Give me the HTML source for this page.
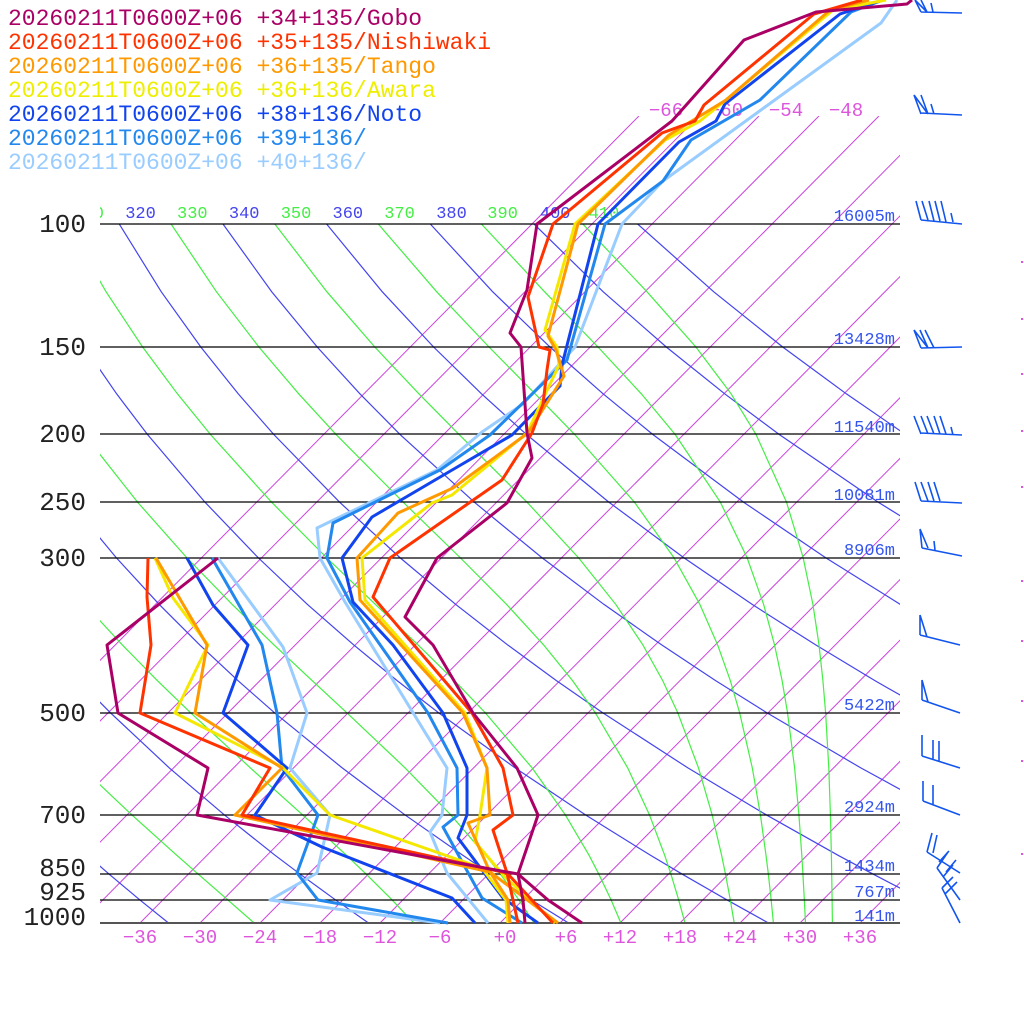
<!DOCTYPE html>
<html><head><meta charset="utf-8">
<style>
html,body{margin:0;padding:0;background:#fff;}
svg{display:block;font-family:"Liberation Mono","DejaVu Sans Mono",monospace;}
</style></head>
<body>
<svg id="s" width="1024" height="1024" viewBox="0 0 1024 1024" xmlns="http://www.w3.org/2000/svg">
<defs><clipPath id="pc"><rect x="100" y="224" width="800" height="699"/></clipPath>
<clipPath id="ic"><rect x="100" y="116" width="800" height="807"/></clipPath>
<clipPath id="lc"><rect x="100" y="190" width="800" height="40"/></clipPath></defs>
<g id="bg"></g>
<g id="iso" stroke="#000" stroke-width="1.3">
<line x1="100" y1="224" x2="900" y2="224"/><line x1="100" y1="347" x2="900" y2="347"/>
<line x1="100" y1="434" x2="900" y2="434"/><line x1="100" y1="502" x2="900" y2="502"/>
<line x1="100" y1="558" x2="900" y2="558"/><line x1="100" y1="713" x2="900" y2="713"/>
<line x1="100" y1="815" x2="900" y2="815"/><line x1="100" y1="874" x2="900" y2="874"/>
<line x1="100" y1="900" x2="900" y2="900"/><line x1="100" y1="923" x2="900" y2="923" stroke="#555" stroke-width="2"/>
</g>
<g font-size="26" fill="#222" text-anchor="end">
<text x="86" y="232">100</text><text x="86" y="355">150</text><text x="86" y="442">200</text>
<text x="86" y="510">250</text><text x="86" y="566">300</text><text x="86" y="721">500</text>
<text x="86" y="823">700</text><text x="86" y="876">850</text><text x="86" y="900">925</text><text x="86" y="925">1000</text>
</g>
<g font-size="17" fill="#3355ee" text-anchor="end">
<text x="895" y="221">16005m</text><text x="895" y="344">13428m</text><text x="895" y="432">11540m</text>
<text x="895" y="500">10081m</text><text x="895" y="555">8906m</text><text x="895" y="710">5422m</text>
<text x="895" y="812">2924m</text><text x="895" y="871">1434m</text><text x="895" y="897">767m</text><text x="895" y="921">141m</text>
</g>
<g font-size="19" fill="#dd55dd" text-anchor="middle">
<text x="140" y="943">−36</text><text x="200" y="943">−30</text><text x="260" y="943">−24</text><text x="320" y="943">−18</text>
<text x="380" y="943">−12</text><text x="440" y="943">−6</text><text x="505" y="943">+0</text><text x="566" y="943">+6</text>
<text x="620" y="943">+12</text><text x="680" y="943">+18</text><text x="740" y="943">+24</text><text x="800" y="943">+30</text><text x="860" y="943">+36</text>
<text x="666" y="116">−66</text><text x="726" y="116">−60</text><text x="786" y="116">−54</text><text x="846" y="116">−48</text>
</g>
<g id="prof" fill="none" stroke-width="3" stroke-linejoin="round"></g>
<g font-size="23">
<text x="8" y="25" fill="#aa0066">20260211T0600Z+06 +34+135/Gobo</text>
<text x="8" y="49" fill="#ff3300">20260211T0600Z+06 +35+135/Nishiwaki</text>
<text x="8" y="73" fill="#ff9900">20260211T0600Z+06 +36+135/Tango</text>
<text x="8" y="97" fill="#eeee00">20260211T0600Z+06 +36+136/Awara</text>
<text x="8" y="121" fill="#1144ee">20260211T0600Z+06 +38+136/Noto</text>
<text x="8" y="145" fill="#2288ee">20260211T0600Z+06 +39+136/</text>
<text x="8" y="169" fill="#99ccff">20260211T0600Z+06 +40+136/</text>
</g>
<g stroke="#1155ee" stroke-width="1.6" fill="none">
<path d="M921 12L962 13M915 0L921 12M921 0L927 12M915 0L927 12M931 3L933 12"/>
<path d="M921 113L962 115M914 95L921 114M921 95L928 114M914 95L928 114M931 104L934 114"/>
<path d="M921 220L962 224M916 201L921 220M922 201L928 220M929 201L934 221M935 201L940 221M941 201L946 222M951 213L953 222"/>
<path d="M921 348L962 347M914 330L921 348M920 330L928 348M925 330L934 348M914 330L928 348"/>
<path d="M921 433L962 435M914 416L921 434M921 416L928 434M927 416L934 434M934 416L940 434M940 416L946 434M951 427L953 435"/>
<path d="M921 501L962 503M915 482L921 501M921 482L928 501M928 482L934 501M934 482L940 501"/>
<path d="M922 548L962 556M920 529L922 548M920 529L928 548M934 541L935 550"/>
<path d="M920 635L960 645M920 615L920 635M920 615L927 637"/>
<path d="M922 700L960 713M922 680L922 700M922 680L928 702"/>
<path d="M922 756L960 768M922 735L922 756M933 740L933 760M939 741L939 761"/>
<path d="M923 801L960 815M923 781L923 801M933 785L933 805"/>
<path d="M927 852L960 873M927 852L932 833M933 853L937 835M939 862L949 851M946 872L956 860"/>
<path d="M937 868L960 900M937 868L948 852M943 877L953 865"/>
<path d="M942 888L960 923M942 888L953 877M945 894L957 882"/>
</g>
<g fill="#dd55dd"><rect x="1021" y="261" width="2" height="2"/><rect x="1021" y="318" width="2" height="2"/><rect x="1021" y="373" width="2" height="2"/><rect x="1021" y="430" width="2" height="2"/><rect x="1021" y="486" width="2" height="2"/><rect x="1021" y="580" width="2" height="2"/><rect x="1021" y="640" width="2" height="2"/><rect x="1021" y="700" width="2" height="2"/><rect x="1021" y="760" width="2" height="2"/><rect x="1021" y="853" width="2" height="2"/></g>
</svg>
<script>
(function(){
var NS="http://www.w3.org/2000/svg";
function Y(p){return 923-303.6*Math.log(1000/p);}
function X(T,y){return 500+10*T+0.99*(923-y);}
var bg=document.getElementById('bg');
function el(tag,attrs,parent){var e=document.createElementNS(NS,tag);for(var k in attrs)e.setAttribute(k,attrs[k]);(parent||bg).appendChild(e);return e;}
var gi=el('g',{'clip-path':'url(#ic)',stroke:'#cc44dd','stroke-width':'1'});
for(var T=-66;T<=120;T+=6){var y1=923,y2=116;el('line',{x1:X(T,y1),y1:y1,x2:X(T,y2),y2:y2},gi);}
var P=[100,125,150,175,200,250,300,350,400,450,500,600,700,800,850,925,1000];
var gd=el('g',{'clip-path':'url(#pc)',fill:'none','stroke-width':'1.2'});
function es(t){return 6.112*Math.exp(17.67*t/(t+243.5));}
function thetae(t,p){var e=es(t),r=0.622*e/(p-e);var TK=t+273.15;var th=TK*Math.pow(1000/p,0.2854);return th*Math.exp((3376/TK-2.54)*r*(1+0.81*r));}
var lab=el('g',{'font-size':'17','clip-path':'url(#lc)'});
for(var th=200;th<=420;th+=10){
 var moist=(th/10)%2==1;var pts=[];
 for(var i=0;i<P.length;i++){var p=P[i],t;
  if(!moist){t=th*Math.pow(p/1000,0.2854)-273.15;}
  else{var lo=-120,hi=60;for(var k=0;k<50;k++){var m=(lo+hi)/2;if(thetae(m,p)>th)hi=m;else lo=m;}t=(lo+hi)/2;}
  var y=Y(p);pts.push(X(t,y).toFixed(1)+','+y.toFixed(1));}
 var col=moist?'#44ee44':'#4444ee';
 el('polyline',{points:pts.join(' '),stroke:col},gd);
 if(th>=310&&th<=410){var x0=parseFloat(pts[0]);var tt=el('text',{x:x0+6,y:218,fill:col},lab);tt.textContent=String(th);}
}
var S=[
['#aa0066',[[912,0],[907,4],[816,12],[744,40],[672,121],[537,224],[527,290],[510,333],[521,347],[525,404],[527,433],[532,458],[507,503],[437,558],[405,617],[433,645],[473,713],[517,768],[538,815],[518,874],[548,900],[582,923]],
 [[525,923],[523,900],[518,874],[197,815],[208,768],[118,713],[107,645],[218,558]]],
['#ff3300',[[862,0],[814,14],[704,105],[695,121],[662,133],[553,224],[528,297],[539,347],[550,350],[547,370],[543,404],[532,433],[502,480],[390,558],[373,597],[472,713],[503,768],[513,815],[493,830],[507,873],[553,923]],
 [[518,923],[513,900],[507,873],[242,815],[270,768],[140,713],[151,645],[147,597],[148,558]]],
['#ff9900',[[869,0],[830,10],[726,100],[669,135],[578,224],[548,336],[556,350],[564,376],[528,433],[453,488],[398,513],[357,558],[360,600],[463,713],[487,768],[490,815],[468,823],[490,872],[558,923]],
 [[510,923],[508,900],[490,872],[235,815],[282,768],[195,713],[207,645],[156,558]]],
['#f5e800',[[886,0],[833,10],[721,104],[700,121],[665,140],[575,224],[545,330],[557,347],[559,365],[527,433],[452,495],[432,503],[362,558],[365,600],[465,713],[487,768],[480,815],[475,842],[505,877],[555,923]],
 [[508,923],[506,900],[482,868],[330,815],[282,767],[175,713],[208,645],[173,598],[155,558]]],
['#1144ee',[[883,0],[840,14],[725,104],[716,121],[679,142],[598,224],[562,365],[560,386],[512,435],[447,473],[372,517],[342,558],[353,602],[393,645],[443,713],[467,768],[467,815],[458,838],[503,898],[538,923]],
 [[475,923],[452,898],[322,847],[255,815],[287,768],[223,713],[248,645],[213,605],[187,558]]],
['#2288ee',[[883,0],[851,12],[760,100],[691,140],[663,181],[605,224],[567,360],[490,435],[440,470],[333,523],[327,558],[350,602],[428,713],[457,768],[458,815],[443,827],[482,898],[522,923]],
 [[448,923],[318,900],[297,873],[318,815],[282,768],[277,713],[262,645],[212,558]]],
['#99ccff',[[897,0],[881,23],[663,181],[622,224],[575,347],[523,404],[482,432],[437,470],[317,528],[320,558],[345,602],[447,768],[442,815],[430,832],[447,873],[488,923]],
 [[440,923],[270,900],[317,873],[330,815],[290,768],[307,713],[283,647],[218,558]]]
];
var gp=document.getElementById('prof');
for(var j=S.length-1;j>=0;j--){var s=S[j];
 for(var q=1;q<=2;q++){el('polyline',{points:s[q].map(function(a){return a.join(',');}).join(' '),stroke:s[0]},gp);}
}
})();
</script>
</body></html>
